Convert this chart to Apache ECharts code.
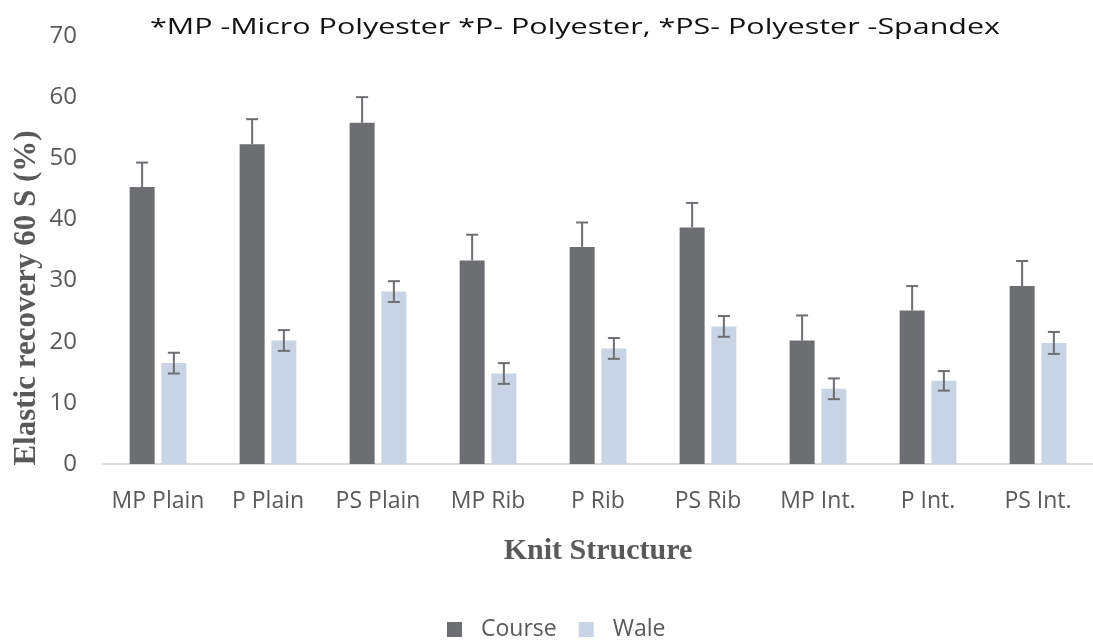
<!DOCTYPE html>
<html>
<head>
<meta charset="utf-8">
<script src="https://cdn.jsdelivr.net/npm/echarts@6/dist/echarts.min.js"></script>
<style>html,body{margin:0;padding:0;background:#fff}#c{width:1093px;height:640px}</style>
</head>
<body>
<div id="c"></div>
<script>
const categories = ['MP Plain', 'P Plain', 'PS Plain', 'MP Rib', 'P Rib', 'PS Rib', 'MP Int.', 'P Int.', 'PS Int.'];
const course = [45.3, 52.3, 55.8, 33.3, 35.5, 38.7, 20.2, 25.1, 29.1];
const courseErr = [4.0, 4.1, 4.2, 4.2, 4.0, 4.0, 4.1, 4.0, 4.1];
const wale = [16.5, 20.2, 28.2, 14.8, 18.9, 22.5, 12.3, 13.6, 19.8];
const waleErr = [1.7, 1.7, 1.7, 1.7, 1.7, 1.7, 1.7, 1.6, 1.8];
const yTicks = [0, 10, 20, 30, 40, 50, 60, 70];
const titleText = '*MP -Micro Polyester *P- Polyester, *PS- Polyester -Spandex';
const yName = 'Elastic recovery 60 S (%)';
const xName = 'Knit Structure';

const BAR_W = 25, GAP = 0.27;
const OFF = (BAR_W + BAR_W * GAP) / 2;
const ERR_COLOR = '#6d6e72';

function errSeries(vals, errs, side, both) {
  return {
    type: 'custom',
    z: 10,
    data: vals.map((v, i) => [i, v, errs[i]]),
    renderItem: function (params, api) {
      const i = api.value(0), v = api.value(1), e = api.value(2);
      const c = api.coord([i, v]);
      const top = api.coord([i, v + e]);
      const bot = both ? api.coord([i, v - e]) : c;
      const x = c[0] + side * OFF;
      const cap = 6;
      const st = { stroke: ERR_COLOR, lineWidth: 2 };
      const children = [
        { type: 'line', shape: { x1: x, y1: top[1], x2: x, y2: bot[1] }, style: st },
        { type: 'line', shape: { x1: x - cap, y1: top[1], x2: x + cap, y2: top[1] }, style: st }
      ];
      if (both) children.push({ type: 'line', shape: { x1: x - cap, y1: bot[1], x2: x + cap, y2: bot[1] }, style: st });
      return { type: 'group', children: children };
    },
    silent: true,
    tooltip: { show: false }
  };
}

const chart = echarts.init(document.getElementById('c'));
chart.setOption({
  animation: false,
  graphic: [
    { type: 'text', x: 575, y: 28, scaleX: 1.385, scaleY: 1,
      style: { text: titleText, fontFamily: 'Open Sans', fontSize: 22, fill: '#111', align: 'center', verticalAlign: 'middle' } },
    { type: 'text', x: 27, y: 298, rotation: Math.PI / 2,
      style: { text: yName, fontFamily: 'Liberation Serif', fontWeight: 'bold', fontSize: 31, fill: '#595959', align: 'center', verticalAlign: 'middle' } }
  ],
  legend: {
    data: ['Course', 'Wale'],
    top: 613, left: 442,
    icon: 'rect', itemWidth: 15, itemHeight: 15, itemGap: 22,
    textStyle: { fontFamily: 'Open Sans', fontSize: 23, color: '#595959', padding: [0, 0, 0, 14] }
  },
  grid: { left: 103, right: 0, top: 36, bottom: 176 },
  xAxis: {
    type: 'category',
    data: categories,
    name: xName,
    nameLocation: 'middle',
    nameGap: 72,
    nameTextStyle: { fontFamily: 'Liberation Serif', fontWeight: 'bold', fontSize: 30, color: '#595959' },
    axisLine: { lineStyle: { color: '#d9d9d9', width: 2 } },
    axisTick: { show: false },
    axisLabel: { interval: 0, fontFamily: 'Open Sans', fontSize: 23, color: '#595959', margin: 26 }
  },
  yAxis: {
    type: 'value',
    min: 0, max: 70, interval: 10,
    axisLine: { show: false },
    axisTick: { show: false },
    splitLine: { show: false },
    axisLabel: { fontFamily: 'Open Sans', fontSize: 24, color: '#595959', margin: 26,
      formatter: v => yTicks.includes(v) ? String(v) : '' }
  },
  series: [
    { name: 'Course', type: 'bar', data: course, barWidth: BAR_W, barGap: (GAP * 100) + '%', itemStyle: { color: '#6d6e72' } },
    { name: 'Wale', type: 'bar', data: wale, barWidth: BAR_W, barGap: (GAP * 100) + '%', itemStyle: { color: '#c8d4e3' } },
    errSeries(course, courseErr, -1, false),
    errSeries(wale, waleErr, 1, true)
  ]
});
</script>
</body>
</html>
